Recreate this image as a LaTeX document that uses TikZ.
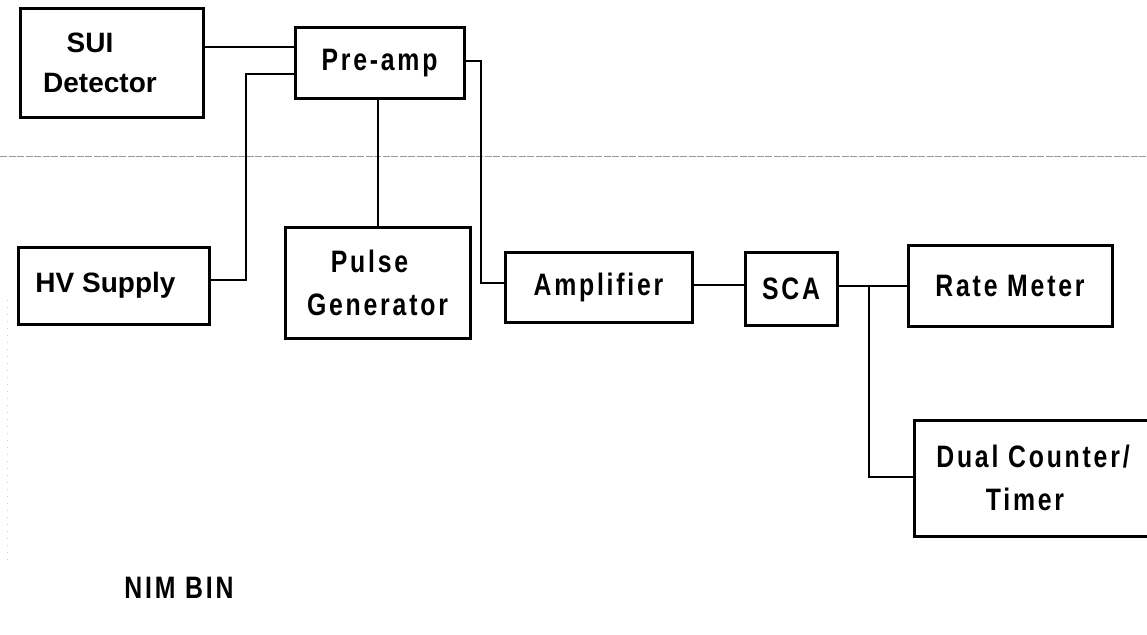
\documentclass[tikz,border=0pt]{standalone}
\usepackage{fontspec}
\setmainfont{Liberation Sans}
\newfontfamily\helv{Liberation Sans}
\newfontfamily\lab[FakeStretch=0.8, LetterSpace=9]{Liberation Sans}
\begin{document}
\begin{tikzpicture}[x=1pt,y=-1pt,
  box/.style={draw, line width=3pt, inner sep=0pt, align=center},
  hfont/.style={font=\helv\bfseries\fontsize{28}{40}\selectfont},
  lfont/.style={font=\lab\bfseries\fontsize{31}{43}\selectfont},
  wire/.style={line width=2.6pt}]
\useasboundingbox (0,0) rectangle (1147,634);
\fill[white] (0,0) rectangle (1147,634);
\clip (0,0) rectangle (1147,634);
% separator line
\draw[gray!80, line width=1pt, dash pattern=on 7pt off 1.5pt] (0,156) -- (1147,156);
\draw[gray!40, line width=0.8pt, dash pattern=on 1pt off 6pt] (7,300) -- (7,560);
% boxes
\node[box, hfont, minimum width=183pt, minimum height=108pt] (sui) at (111.5,63) {\hspace*{-43pt}SUI\\\hspace*{-23pt}Detector};
\node[box, lfont, minimum width=169pt, minimum height=70pt] (pre) at (379.5,63) {Pre-amp};
\node[box, hfont, minimum width=191pt, minimum height=77pt] (hv) at (113.5,285.5) {\hspace*{-16pt}HV Supply};
\node[box, lfont, minimum width=185pt, minimum height=111pt] (pg) at (377.5,282.5) {\hspace*{-16pt}Pulse\\Generator};
\node[box, lfont, minimum width=187pt, minimum height=70pt] (amp) at (598.5,287) {Amplifier};
\node[box, lfont, minimum width=92pt, minimum height=73pt] (sca) at (791,288.5) {SCA};
\node[box, lfont, minimum width=204pt, minimum height=81pt] (rate) at (1010,285.5) {Rate Meter};
\node[box, minimum width=246pt, minimum height=116pt] (dual) at (1037,478) {};
\node[lfont, align=center, anchor=center] (dualtxt) at (1033,478) {Dual Counter/\\\hspace*{-16pt}Timer};
\node[lfont] (nim) at (179,588) {NIM BIN};
% connectors
\draw[wire] (sui.east |- 0,47) -- (pre.west |- 0,47);
\draw[wire] (hv.east |- 0,280) -- (246,280) -- (246,74) -- (pre.west |- 0,74);
\draw[wire] (pre.south -| 378,0) -- (pg.north -| 378,0);
\draw[wire] (pre.east |- 0,61) -- (481,61) -- (481,283) -- (amp.west |- 0,283);
\draw[wire] (amp.east |- 0,285) -- (sca.west |- 0,285);
\draw[wire] (sca.east |- 0,286) -- (rate.west |- 0,286);
\coordinate (j) at (869,286);
\draw[wire] (j) -- (869,477) -- (dual.west |- 0,477);
\end{tikzpicture}
\end{document}
